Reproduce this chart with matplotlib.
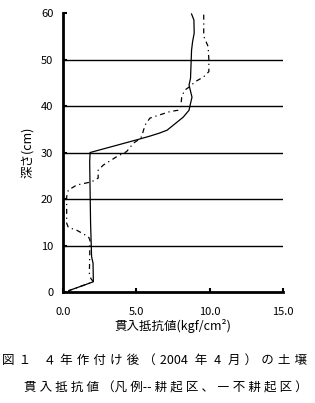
import matplotlib
matplotlib.use("Agg")
import matplotlib.pyplot as plt

plt.rcParams['font.family'] = ['Noto Sans CJK JP', 'DejaVu Sans']

# 不耕起区 (solid)
notill_depth = [0.0, 0.3, 2.2, 6.2, 7.6, 15.0, 28.0, 30.0, 32.7, 33.5, 34.2, 34.8, 37.6, 39.1, 40.0, 41.9, 44.5, 46.0, 52.0, 53.8, 55.7, 58.5, 59.8]
notill_value = [0.4, 0.4, 2.07, 2.05, 1.95, 1.88, 1.82, 1.85, 5.0, 5.9, 6.6, 7.1, 8.2, 8.6, 8.66, 8.8, 8.6, 8.7, 8.77, 8.84, 8.95, 8.93, 8.77]

# 耕起区 (dashed)
till_depth = [0.0, 0.3, 2.2, 2.9, 4.0, 11.2, 11.9, 13.3, 13.9, 14.8, 18.4, 20.5, 21.9, 23.0, 23.7, 24.5, 26.2, 27.3, 29.1, 30.2, 32.0, 32.7, 33.4, 35.9, 37.4, 38.1, 38.8, 39.1, 40.0, 42.0, 43.4, 44.2, 45.2, 46.0, 46.5, 47.4, 50.0, 52.8, 55.0, 60.0]
till_value = [0.4, 0.4, 2.07, 1.9, 1.8, 1.84, 1.73, 0.93, 0.36, 0.25, 0.25, 0.25, 0.36, 0.93, 1.95, 2.4, 2.4, 2.75, 3.66, 4.34, 4.8, 5.13, 5.36, 5.6, 5.93, 6.6, 7.3, 7.86, 8.04, 8.1, 8.3, 8.66, 9.0, 9.45, 9.68, 9.95, 9.95, 9.9, 9.6, 9.6]

xticks = [0, 5, 10, 15]
xticklabels = ["0.0", "5.0", "10.0", "15.0"]
yticks = [0, 10, 20, 30, 40, 50, 60]
gridlines = [10, 20, 30, 40, 50]

SP = "\u2004"
SP2 = "\u2005"
caption1 = SP.join(["図", "１", "", "", "４", "年", "作", "付", "け", "後", "（", "2004 ", "年", " 4 ", "月", "）", "の", "土", "壌"])
caption2 = SP2.join(["貫", "入", "抵", "抗", "値", "（凡", "例--", "耕", "起", "区", "、", "―", "不", "耕", "起", "区", "）"])

fig = plt.figure(figsize=(3.15, 4.03), dpi=100)
ax = fig.add_axes([0.2, 0.2754, 0.698, 0.6923])

for g in gridlines:
    ax.axhline(g, color='black', lw=1.0, zorder=1)

ax.plot(notill_value, notill_depth, color='black', lw=0.9, zorder=3)
ax.plot(till_value, till_depth, color='black', lw=0.9, linestyle=(0, (4, 3, 1, 3)), zorder=3)

ax.set_xlim(0, 15)
ax.set_ylim(0, 60)
ax.set_xticks(xticks)
ax.set_xticklabels(xticklabels)
ax.set_yticks(yticks)
ax.set_yticklabels([str(v) for v in yticks])
ax.tick_params(axis='both', direction='in', length=3, width=1.5, labelsize=8)
ax.tick_params(axis='x', pad=11)
ax.tick_params(axis='y', pad=7)
for s in ['top', 'right']:
    ax.spines[s].set_visible(False)
for s in ['left', 'bottom']:
    ax.spines[s].set_linewidth(2)

ax.set_xlabel("貫入抵抗値(kgf/cm²)", fontsize=9, labelpad=1)
ax.set_ylabel("深さ(cm)", fontsize=9, labelpad=5)

fig.text(0.005, 1 - 360 / 403, caption1, fontsize=9, va='center', ha='left')
fig.text(0.075, 1 - 388 / 403, caption2, fontsize=9, va='center', ha='left')

fig.savefig("out.png", dpi=100)
